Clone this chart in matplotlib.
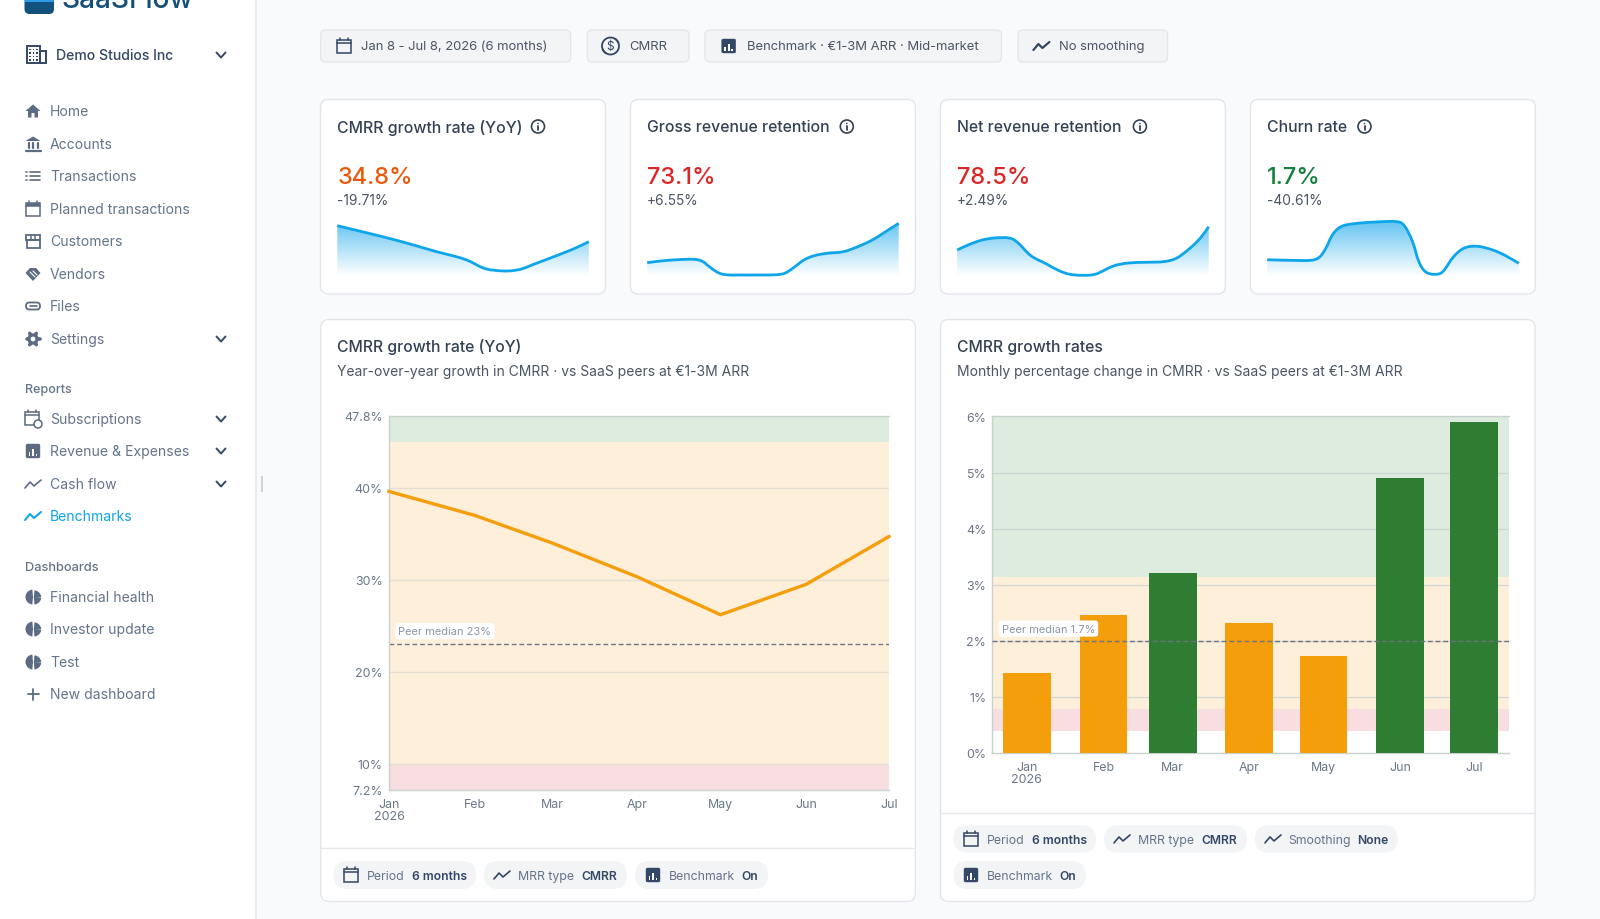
import numpy as np
import matplotlib
matplotlib.use("Agg")
import matplotlib.pyplot as plt
from matplotlib.patches import FancyBboxPatch, Circle, Rectangle, Polygon, Wedge, Arc, PathPatch
from matplotlib.path import Path
from matplotlib.colors import LinearSegmentedColormap

plt.rcParams['font.family'] = ['Inter', 'DejaVu Sans']

W, H = 1600, 920

# chart data
months = ['Jan\n2026', 'Feb', 'Mar', 'Apr', 'May', 'Jun', 'Jul']
month_days = [0, 31, 59, 90, 120, 151, 181]
yoy_values = [39.6, 37.0, 34.0, 30.3, 26.2, 29.5, 34.7]
yoy_ticks = [7.2, 10, 20, 30, 40, 47.8]
yoy_tick_labels = ['7.2%', '10%', '20%', '30%', '40%', '47.8%']
yoy_bands = [7.2, 10, 45, 47.8]
yoy_median = 23
monthly_values = [1.42, 2.455, 3.2, 2.32, 1.73, 4.91, 5.9]
monthly_ticks = [0, 1, 2, 3, 4, 5, 6]
monthly_tick_labels = ['0%', '1%', '2%', '3%', '4%', '5%', '6%']
monthly_bands = [0.39, 0.79, 3.14, 6]
monthly_median_line = 1.99

# sparklines, x in % of the width, y in px above the base line
spark1_x = [0, 6.6, 14.8, 23.1, 31.3, 39.5, 47.8, 52.7, 56, 59.3, 62.6, 66.7, 70.8, 74.1, 77.4, 84, 90.6, 95.6, 100]
spark1_y = [50.3, 46.3, 41.3, 36, 30.3, 24.3, 19, 14.7, 10.3, 7, 5.7, 5, 5.7, 7.7, 11, 17.3, 23.7, 29, 34.3]
spark2_x = [0, 5.4, 12, 18.6, 21.9, 24.4, 27.7, 31, 36.7, 45, 51.6, 54.9, 58.2, 62.3, 66.4, 71.4, 78, 83.7, 89.5, 94.4, 100]
spark2_y = [13.3, 15, 16.3, 16.7, 14.7, 10, 4, 1.3, 1, 1, 1.3, 3, 8.3, 16, 20.3, 22.7, 24.3, 29.3, 36, 43.7, 52.7]
spark3_x = [0, 4.3, 9.5, 14.7, 20.7, 24.1, 29.3, 35.3, 40.5, 44.8, 50, 55.2, 62.1, 68.1, 75, 81.9, 87.1, 92.2, 96.6, 100]
spark3_y = [26, 31, 35.7, 38, 38, 33.3, 20.3, 12.3, 5.3, 1.7, 0.7, 2, 10, 13, 13.7, 14.3, 17.7, 27, 37.7, 49.3]
spark4_x = [0, 8.6, 17.2, 20.7, 23.3, 25.9, 29.3, 34.5, 43.1, 51.7, 54.8, 57.8, 60.3, 62.9, 66.4, 69.8, 74.1, 78.4, 83.6, 89.7, 94.8, 100]
spark4_y = [16.3, 15.7, 15.7, 18.7, 27.7, 41, 49.3, 52.3, 54, 54.3, 49.3, 34.3, 14.3, 4.3, 1.7, 4.3, 19.3, 28, 29.7, 26, 20.3, 12.7]

kpi_titles = ['CMRR growth rate (YoY)', 'Gross revenue retention', 'Net revenue retention', 'Churn rate']
kpi_values = ['34.8%', '73.1%', '78.5%', '1.7%']
kpi_deltas = ['-19.71%', '+6.55%', '+2.49%', '-40.61%']
kpi_colors = ['#ea580c', '#dc2626', '#dc2626', '#15803d']
kpi_left = [320.5, 630.4, 940.4, 1250.4]
kpi_info_x = [538, 846.8, 1139.9, 1364.5]
sparks = [(spark1_x, spark1_y), (spark2_x, spark2_y), (spark3_x, spark3_y), (spark4_x, spark4_y)]

SLATE = '#334155'
GREY = '#4b5563'
ICON = '#5b6b82'
NAVY = '#334766'
BAND_RED = '#f9dee1'
BAND_ORANGE = '#feefda'
BAND_GREEN = '#deebdf'


def px(n):
    return n * 0.72


fig = plt.figure(figsize=(W / 100, H / 100), dpi=100, facecolor='#f9fafb')
bg = fig.add_axes([0, 0, 1, 1], zorder=0)
bg.set_xlim(0, W)
bg.set_ylim(H, 0)
bg.axis('off')


def box(x0, y0, x1, y1, r=6, fc='white', ec='#e2e5ea', lw=1.0, z=1):
    bg.add_patch(FancyBboxPatch((x0, y0), x1 - x0, y1 - y0, boxstyle='round,pad=0,rounding_size=%g' % r,
                                fc=fc, ec=ec, lw=lw, zorder=z))


def txt(x, y, s, size=14, c=GREY, w='normal', ha='left', z=5):
    bg.text(x, y + 1, s, fontsize=px(size), color=c, fontweight=w, ha=ha, va='center', zorder=z)


def poly(xs, ys, c=ICON, lw=1.4):
    bg.plot(xs, ys, color=c, lw=lw, solid_capstyle='round', solid_joinstyle='round', zorder=5)


def ic_chevron(x, y):
    poly([x - 4.5, x, x + 4.5], [y - 2.5, y + 2.5, y - 2.5], c=NAVY, lw=1.4)


def ic_calendar(x, y, c=NAVY, s=7):
    bg.add_patch(Rectangle((x - s, y - s + 1), 2 * s, 2 * s - 1, fc='none', ec=c, lw=1.1, zorder=5))
    poly([x - s, x + s], [y - s + 4, y - s + 4], c=c, lw=1.1)
    poly([x - s + 3, x - s + 3], [y - s - 1, y - s + 1], c=c, lw=1.1)
    poly([x + s - 3, x + s - 3], [y - s - 1, y - s + 1], c=c, lw=1.1)


def ic_bars(x, y, c=NAVY, s=7):
    box(x - s, y - s, x + s, y + s, r=1.5, fc=c, ec=c, lw=0.3, z=5)
    for dx, h in [(-3.5, 3.5), (0, 7), (3.5, 2)]:
        bg.add_patch(Rectangle((x + dx - 0.8, y + 4.5 - h), 1.6, h, fc='white', ec='none', zorder=6))


def ic_trend(x, y, c=NAVY, lw=1.2):
    poly([x - 8, x - 3, x + 1, x + 8], [y + 4, y - 2, y + 2, y - 4], c=c, lw=lw)


def ic_info(x, y):
    bg.add_patch(Circle((x, y), 6.5, fc='none', ec=SLATE, lw=1.2, zorder=5))
    poly([x, x], [y - 0.5, y + 3], c=SLATE, lw=1.3)
    bg.add_patch(Circle((x, y - 3), 0.8, fc=SLATE, ec='none', zorder=5))


def ic_pie(x, y):
    bg.add_patch(Wedge((x, y), 7.5, 95, 265, fc=ICON, ec='none', zorder=5))
    bg.add_patch(Wedge((x + 0.8, y), 7.5, 5, 85, fc=ICON, ec='none', zorder=5))
    bg.add_patch(Wedge((x + 0.8, y + 0.8), 7.5, 275, 355, fc=ICON, ec='none', zorder=5))


def ic_side(kind, x, y):
    if kind == 'home':
        bg.add_patch(Polygon([[x - 7.5, y], [x, y - 6.5], [x + 7.5, y], [x + 5, y], [x + 5, y + 6.5], [x + 1.5, y + 6.5],
                              [x + 1.5, y + 2], [x - 1.5, y + 2], [x - 1.5, y + 6.5], [x - 5, y + 6.5], [x - 5, y]],
                             fc=ICON, ec='none', zorder=5))
    elif kind == 'bank':
        bg.add_patch(Polygon([[x - 7.5, y - 3], [x, y - 7.5], [x + 7.5, y - 3]], fc=ICON, ec='none', zorder=5))
        for dx in (-4.5, 0, 4.5):
            poly([x + dx, x + dx], [y - 1, y + 4], lw=1.6)
        poly([x - 7.5, x + 7.5], [y + 6.5, y + 6.5], lw=1.6)
    elif kind == 'list':
        for dy in (-4, 0, 4):
            poly([x - 3.5, x + 7], [y + dy, y + dy], lw=1.2)
            poly([x - 7, x - 6], [y + dy, y + dy], lw=1.2)
    elif kind == 'cal':
        ic_calendar(x, y, c=ICON)
        bg.add_patch(Rectangle((x - 7, y - 6), 14, 3, fc=ICON, ec='none', zorder=5))
    elif kind == 'store':
        bg.add_patch(Rectangle((x - 6.5, y - 1), 13, 7.5, fc='none', ec=ICON, lw=1.3, zorder=5))
        bg.add_patch(Rectangle((x - 7, y - 6.5), 14, 5.5, fc='none', ec=ICON, lw=1.3, zorder=5))
        for dx in (-2.3, 2.3):
            poly([x + dx, x + dx], [y - 6, y - 1], lw=1.1)
    elif kind == 'hand':
        bg.add_patch(Polygon([[x - 7.5, y - 1], [x - 3, y - 6], [x + 3, y - 6], [x + 7.5, y - 1], [x, y + 7]],
                             fc=ICON, ec='none', zorder=5))
        poly([x - 3, x + 2], [y - 2, y + 3], c='white', lw=0.8)
        poly([x, x + 4], [y - 3, y + 1], c='white', lw=0.8)
    elif kind == 'clip':
        box(x - 7, y - 3.5, x + 7, y + 3.5, r=3.4, fc='none', ec=ICON, lw=1.3, z=5)
        poly([x - 3.5, x + 4], [y, y], lw=1.2)
    elif kind == 'gear':
        for a in np.arange(0, 360, 60):
            t = np.radians(a)
            poly([x + 4 * np.cos(t), x + 6.5 * np.cos(t)], [y + 4 * np.sin(t), y + 6.5 * np.sin(t)], lw=2.6)
        bg.add_patch(Circle((x, y), 4.2, fc='none', ec=ICON, lw=2.2, zorder=5))
    elif kind == 'sub':
        ic_calendar(x - 1, y - 1, c=ICON)
        bg.add_patch(Circle((x + 5, y + 5), 4, fc='white', ec=ICON, lw=1.1, zorder=6))
    elif kind == 'bars':
        ic_bars(x, y, c=ICON)
    elif kind == 'trend':
        ic_trend(x, y, c=ICON)
    elif kind == 'trend_on':
        ic_trend(x, y, c='#0ea5e9', lw=1.5)
    elif kind == 'pie':
        ic_pie(x, y)
    elif kind == 'plus':
        poly([x - 5.5, x + 5.5], [y, y], lw=1.3)
        poly([x, x], [y - 5.5, y + 5.5], lw=1.3)


# sidebar
bg.add_patch(Rectangle((0, 0), 255.5, H, fc='white', ec='none', zorder=1))
bg.plot([255.5, 255.5], [0, H], color='#e5e7eb', lw=1.2, zorder=2)
bg.add_patch(Rectangle((261.2, 477), 2, 16, fc='#d1d5db', ec='none', zorder=2))
box(24.5, -18, 54, 15, r=5, fc='#13527e', ec='none', z=2)
bg.add_patch(Rectangle((24.5, -5), 29.5, 8, fc='#2f9ae5', ec='none', zorder=3))
txt(61.5, 0, 'SaaSFlow', size=28, c='#15507a', w='medium')

bg.add_patch(Rectangle((27, 47), 13, 17, fc='none', ec=NAVY, lw=1.4, zorder=5))
bg.add_patch(Rectangle((40, 52), 6, 12, fc='none', ec=NAVY, lw=1.4, zorder=5))
for dx in (30, 33.5, 37):
    for dy in (50.5, 54, 57.5, 61):
        bg.add_patch(Rectangle((dx - 0.8, dy - 0.8), 1.6, 1.6, fc=NAVY, ec='none', zorder=5))
txt(56.5, 55.5, 'Demo Studios Inc', size=14.05, c=NAVY, w='medium')
ic_chevron(221, 56)

nav = [('home', 'Home', 111, False), ('bank', 'Accounts', 144, False), ('list', 'Transactions', 176, False),
       ('cal', 'Planned transactions', 209, False), ('store', 'Customers', 241, False), ('hand', 'Vendors', 274, False),
       ('clip', 'Files', 306, False), ('gear', 'Settings', 339, True), ('sub', 'Subscriptions', 419, True),
       ('bars', 'Revenue & Expenses', 451, True), ('trend', 'Cash flow', 484, True),
       ('trend_on', 'Benchmarks', 516, False), ('pie', 'Financial health', 597, False),
       ('pie', 'Investor update', 629, False), ('pie', 'Test', 662, False), ('plus', 'New dashboard', 694, False)]
for kind, label, y, chev in nav:
    ic_side(kind, 33, y + 1)
    txt(50, y, label, size=14.0, c='#0ea5e9' if kind == 'trend_on' else '#64748b')
    if chev:
        ic_chevron(221, y + 1)
txt(24.5, 389, 'Reports', size=12.6, c='#64748b', w='medium')
txt(24.5, 567, 'Dashboards', size=12.8, c='#64748b', w='medium')

# top filter pills
pills = [(320.7, 570.7, 361.4, 'Jan 8 - Jul 8, 2026 (6 months)'), (587.3, 689, 628.8, 'CMRR'),
         (705, 1001.5, 747, 'Benchmark · €1-3M ARR · Mid-market'), (1018, 1167.6, 1059, 'No smoothing')]
for x0, x1, tx, label in pills:
    box(x0, 31, x1, 63, r=5, fc='#f3f4f6', ec='#e5e7eb')
    txt(tx, 46, label, size=13.05, c=GREY)
ic_calendar(343.5, 46.5, c=NAVY)
bg.add_patch(Arc((610.5, 47), 17, 17, theta1=-60, theta2=160, ec=NAVY, lw=1.3, zorder=5))
bg.add_patch(Arc((610.5, 47), 17, 17, theta1=120, theta2=340, ec=NAVY, lw=1.3, zorder=5))
txt(610.5, 46, '$', size=12, c=NAVY, ha='center')
ic_bars(728.7, 47)
ic_trend(1041.4, 47, lw=1.6)


def smooth_path(xv, yv):
    # bezier handles through the read points, the same way the app draws its curve
    p = np.column_stack([xv, yv])
    q = np.vstack([p[0], p, p[-1]])
    verts = [p[0]]
    codes = [Path.MOVETO]
    for i in range(len(p) - 1):
        verts += [q[i + 1] + (q[i + 2] - q[i]) / 6, q[i + 2] - (q[i + 3] - q[i + 1]) / 6, q[i + 2]]
        codes += [Path.CURVE4] * 3
    return verts, codes


def draw_spark(xv, yv, left):
    ax = fig.add_axes([(left + 16.8) / W, 1 - 277 / H, 251.5 / W, 55 / H], zorder=3)
    ax.patch.set_alpha(0)
    ax.axis('off')
    cmap = LinearSegmentedColormap.from_list('spark', ['white', '#62c3f2'])
    verts, codes = smooth_path(xv, yv)
    area = Path(verts + [(xv[-1], 0), (xv[0], 0), verts[0]], codes + [Path.LINETO, Path.LINETO, Path.CLOSEPOLY])
    img = ax.imshow(np.linspace(1, 0, 64).reshape(-1, 1), extent=[0, 100, 0, 55], aspect='auto', cmap=cmap,
                    vmin=0, vmax=1, zorder=1)
    img.set_clip_path(area, transform=ax.transData)
    ax.add_patch(PathPatch(Path(verts, codes), fc='none', ec='#0ea5e9', lw=2.0, joinstyle='round', capstyle='butt',
                           clip_on=False, zorder=2))
    ax.set_xlim(0, 100)
    ax.set_ylim(0, 55)


# kpi cards
for i, left in enumerate(kpi_left):
    box(left, 100.5, left + 285, 295, r=8)
    tx = left + 16.8
    txt(tx, 126.5, kpi_titles[i], size=15.8, c=SLATE, w='medium')
    ic_info(kpi_info_x[i], 127.5)
    txt(tx, 177, kpi_values[i], size=23.6, c=kpi_colors[i], w='medium')
    txt(tx, 200, kpi_deltas[i], size=13.8, c=GREY)
    draw_spark(sparks[i][0], sparks[i][1], left)

# big cards
for left, title, sub, div, ty in [(320.8, 'CMRR growth rate (YoY)', 'Year-over-year growth in CMRR · vs SaaS peers at €1-3M ARR', 849, 346),
                                  (940.5, 'CMRR growth rates', 'Monthly percentage change in CMRR · vs SaaS peers at €1-3M ARR', 813.5, 346.8)]:
    box(left, 320.5, left + 594.6, 902.5, r=8)
    bg.plot([left, left + 594.6], [div, div], color='#e5e7eb', lw=1.0, zorder=2)
    txt(left + 16.5, ty, title, size=15.75, c=SLATE, w='medium')
    txt(left + 16.5, 371, sub, size=13.9, c=GREY)


def chip(x0, x1, y0, y1, ix, icon, tx, label, bx, bold):
    box(x0, y0, x1, y1, r=(y1 - y0) / 2, fc='#f3f4f6', ec='none', z=2)
    cy = (y0 + y1) / 2
    icon(ix, cy)
    txt(tx, cy, label, size=12.3, c='#64748b')
    txt(bx, cy, bold, size=12.1, c=NAVY, w='semibold')


chip(333.4, 476, 862, 890, 351, ic_calendar, 367, 'Period', 412, '6 months')
chip(484, 627, 862, 890, 502, ic_trend, 518, 'MRR type', 581.4, 'CMRR')
chip(635, 768, 862, 890, 653, ic_bars, 668.6, 'Benchmark', 741, 'On')
chip(953.4, 1096, 826.3, 853.6, 971, ic_calendar, 987, 'Period', 1031.8, '6 months')
chip(1104, 1247, 826.3, 853.6, 1122, ic_trend, 1138, 'MRR type', 1201.4, 'CMRR')
chip(1255, 1397.7, 826.3, 853.6, 1273, ic_trend, 1288.6, 'Smoothing', 1357.5, 'None')
chip(953.4, 1085.8, 862, 890, 971, ic_bars, 987, 'Benchmark', 1059.8, 'On')


def chart_axes(x0, x1, y0, y1):
    ax = fig.add_axes([x0 / W, 1 - y1 / H, (x1 - x0) / W, (y1 - y0) / H], zorder=3)
    ax.set_facecolor('white')
    ax.spines['right'].set_visible(False)
    for s in ('left', 'bottom', 'top'):
        ax.spines[s].set_color('#c9d1cf')
        ax.spines[s].set_linewidth(1.0)
    ax.tick_params(length=0, labelsize=px(12.4), labelcolor='#6b7788')
    ax.tick_params(axis='y', pad=4.5)
    ax.tick_params(axis='x', pad=6)
    ax.set_axisbelow(False)
    return ax


# yoy line chart
ax1 = chart_axes(389, 889, 417, 790.5)
ax1.axhspan(yoy_bands[0], yoy_bands[1], color=BAND_RED, lw=0, zorder=0)
ax1.axhspan(yoy_bands[1], yoy_bands[2], color=BAND_ORANGE, lw=0, zorder=0)
ax1.axhspan(yoy_bands[2], yoy_bands[3], color=BAND_GREEN, lw=0, zorder=0)
for v in yoy_ticks[1:-1]:
    ax1.axhline(v, color='#e4ddd0', lw=1.0, zorder=1)
ax1.axhline(yoy_median, color='#6b7280', lw=1.0, ls=(0, (3.5, 2)), zorder=2)
ax1.plot(month_days, yoy_values, color='#f59e0b', lw=2.4, solid_joinstyle='miter', clip_on=False, zorder=3)
ax1.set_xlim(month_days[0], month_days[-1])
ax1.set_ylim(yoy_ticks[0], yoy_ticks[-1])
ax1.set_xticks(month_days, months, linespacing=1.0)
ax1.set_yticks(yoy_ticks, yoy_tick_labels)
ax1.annotate('Peer median 23%', xy=(month_days[0], yoy_median), xytext=(px(9.5), px(13)), textcoords='offset points',
             fontsize=px(11), color='#8b95a5', va='center', zorder=6,
             bbox=dict(boxstyle='round,pad=0.28,rounding_size=0.25', fc='white', ec='none'))

# monthly bar chart
ax2 = chart_axes(992.4, 1509, 417.4, 754)
ax2.axhspan(monthly_bands[0], monthly_bands[1], color=BAND_RED, lw=0, zorder=0)
ax2.axhspan(monthly_bands[1], monthly_bands[2], color=BAND_ORANGE, lw=0, zorder=0)
ax2.axhspan(monthly_bands[2], monthly_bands[3], color=BAND_GREEN, lw=0, zorder=0)
for v in monthly_ticks[1:-1]:
    ax2.axhline(v, color='#c9d1cf', lw=0.9, alpha=0.8, zorder=1)
bar_colors = ['#2e7d32' if v >= monthly_bands[2] else '#f59e0b' for v in monthly_values]
ax2.bar(month_days, monthly_values, width=19.36, color=bar_colors, zorder=3)
ax2.axhline(monthly_median_line, color='#6b7280', lw=1.0, ls=(0, (3.5, 2)), zorder=4)
ax2.set_xlim(-13.96, 195.1)
ax2.set_ylim(0, 6)
ax2.set_xticks(month_days, months, linespacing=1.0)
ax2.set_yticks(monthly_ticks, monthly_tick_labels)
ax2.annotate('Peer median 1.7%', xy=(-13.96, monthly_median_line), xytext=(px(9.2), px(12.8)), textcoords='offset points',
             fontsize=px(11), color='#8b95a5', va='center', zorder=6,
             bbox=dict(boxstyle='round,pad=0.28,rounding_size=0.25', fc='white', ec='none'))

fig.savefig('out.png', dpi=100, facecolor=fig.get_facecolor())
